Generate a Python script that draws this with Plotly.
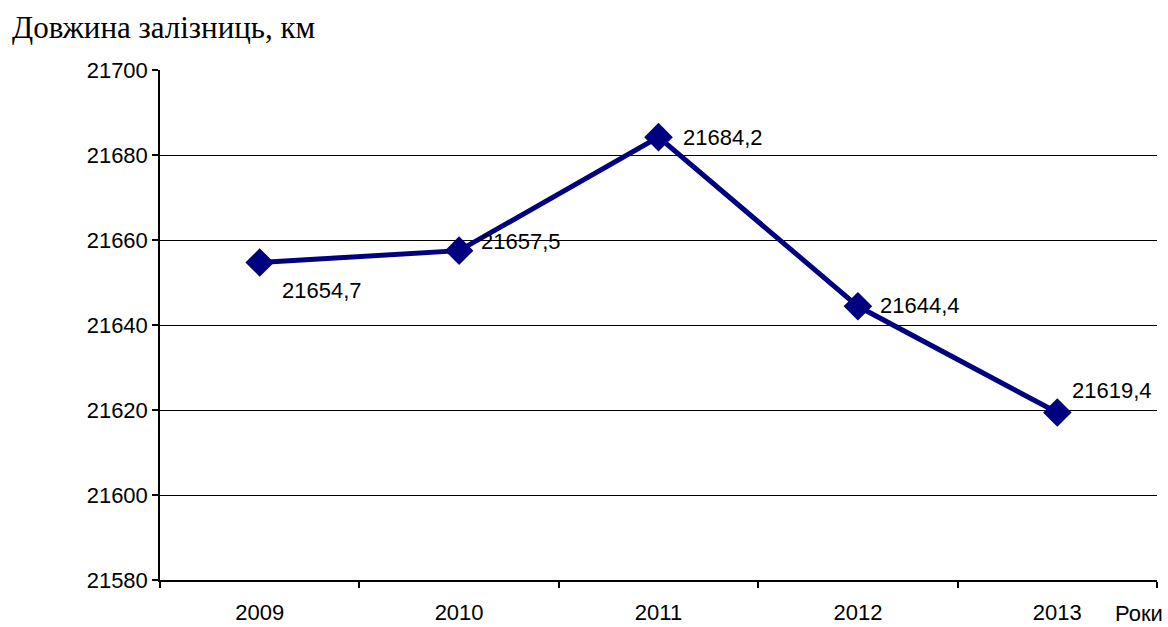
import plotly.graph_objects as go

years = ["2009", "2010", "2011", "2012", "2013"]
lengths = [21654.7, 21657.5, 21684.2, 21644.4, 21619.4]
value_labels = ["21654,7", "21657,5", "21684,2", "21644,4", "21619,4"]
y_ticks = [21580, 21600, 21620, 21640, 21660, 21680, 21700]

# label offsets (px) relative to each point
label_shifts = [(20, -28), (20, 9), (22, 0), (20, 1), (13, 22)]

NAVY = "#000080"
FONT = "Liberation Sans, Arial, sans-serif"
FS = 22

fig = go.Figure()
fig.add_trace(go.Scatter(
    x=list(range(len(years))), y=lengths, mode="lines+markers",
    line=dict(color=NAVY, width=5),
    marker=dict(symbol="diamond", size=22, color=NAVY),
    hoverinfo="skip", showlegend=False,
))

annotations = []
for i, (v, t, (dx, dy)) in enumerate(zip(lengths, value_labels, label_shifts)):
    annotations.append(dict(
        x=i, y=v, text=t, showarrow=False, xanchor="left", yanchor="middle",
        xshift=dx, yshift=dy, font=dict(family=FONT, size=FS, color="black"),
    ))

annotations.append(dict(
    xref="paper", yref="paper", x=0, y=1.0, xshift=-150, yshift=43,
    text="Довжина залізниць, км", showarrow=False, xanchor="left", yanchor="middle",
    font=dict(family="Liberation Serif, Times New Roman, serif", size=31, color="black"),
))
annotations.append(dict(
    xref="paper", yref="paper", x=1.0, y=0, yshift=-33, xshift=-44,
    text="Роки", showarrow=False, xanchor="left", yanchor="middle",
    font=dict(family=FONT, size=FS, color="black"),
))

fig.update_layout(
    width=1168, height=627,
    margin=dict(l=160, r=11, t=70, b=47),
    plot_bgcolor="white", paper_bgcolor="white",
    font=dict(family=FONT, size=FS, color="black"),
    annotations=annotations,
    xaxis=dict(
        tickmode="array", tickvals=list(range(len(years))), ticktext=years,
        ticks="", showline=True, linecolor="black",
        linewidth=1.5, showgrid=False, zeroline=False, automargin=False,
        minor=dict(tickvals=[i - 0.5 for i in range(len(years) + 1)],
                   ticks="outside", ticklen=6, tickcolor="black", tickwidth=1.5,
                   showgrid=False),
        tickfont=dict(family=FONT, size=FS, color="black"),
        ticklabelstandoff=12,
        range=[-0.5, len(years) - 0.5],
    ),
    yaxis=dict(
        range=[21580, 21700], tickvals=y_ticks, ticktext=[str(v) for v in y_ticks],
        ticks="outside", ticklen=6, tickcolor="black", tickwidth=1.5,
        showline=True, linecolor="black", linewidth=1.5, automargin=False,
        showgrid=True, gridcolor="black", gridwidth=1, zeroline=False,
        tickfont=dict(family=FONT, size=FS, color="black"),
    ),
)

fig.write_html("out.html")
